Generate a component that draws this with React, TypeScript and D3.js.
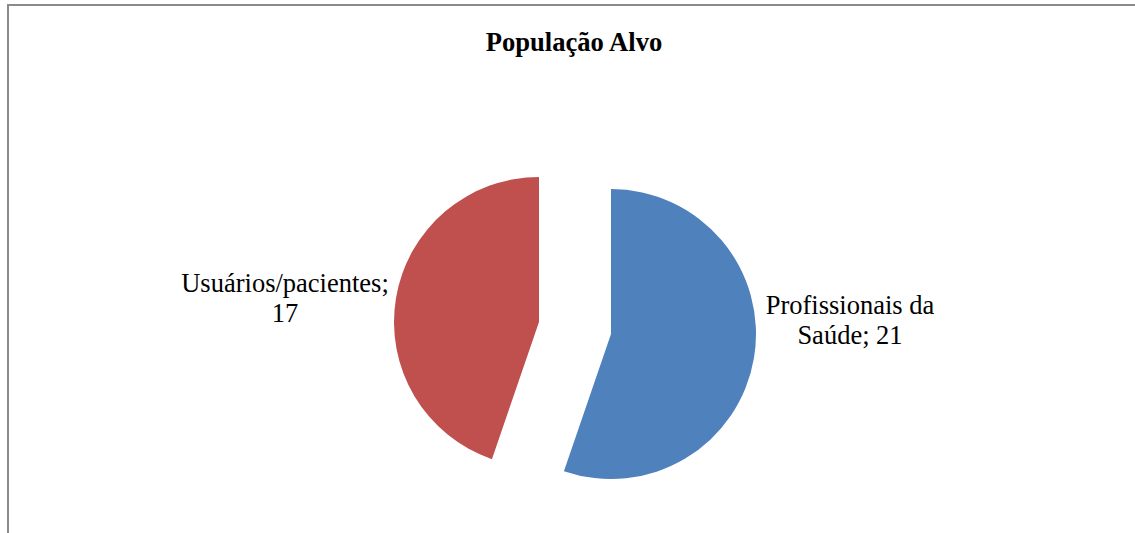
import React from "react";
import * as d3 from "d3";

const categories = ["Profissionais da Saúde", "Usuários/pacientes"];
const values = [21, 17];
const labelLines = [["Profissionais da", "Saúde; 21"], ["Usuários/pacientes;", "17"]];
const colors = ["#4F81BD", "#C0504D"];
const title = "População Alvo";

const W = 1135;
const H = 533;

export default function App() {
  const cx = 575;
  const cy = 328;
  const r = 145;
  const explode = 36.5;
  const data = categories.map((c, i) => ({ name: c, value: values[i], lines: labelLines[i], color: colors[i] }));
  const pie = d3.pie<any>().value((d) => d.value).sort(null).startAngle(0).endAngle(2 * Math.PI);
  const arcs = pie(data);
  const arc = d3.arc<any>().innerRadius(0).outerRadius(r);
  const labelPos = [
    { x: 850, y: 314 },
    { x: 285, y: 292 },
  ];
  return (
    <svg
      width={W}
      height={H}
      style={{ position: "fixed", left: 0, top: 0, background: "#fff" }}
      fontFamily="'Liberation Serif', 'Times New Roman', serif"
    >
      <rect x={0} y={0} width={W} height={H} fill="#fff" />
      <line x1={7} y1={5} x2={W} y2={5} stroke="#8a8a8a" strokeWidth={2} />
      <line x1={8} y1={4} x2={8} y2={H} stroke="#8a8a8a" strokeWidth={2} />
      <text x={574} y={51} textAnchor="middle" fontWeight="bold" fontSize={26.6} fill="#000">
        {title}
      </text>
      {arcs.map((a, i) => {
        const mid = (a.startAngle + a.endAngle) / 2;
        const dx = Math.sin(mid) * explode;
        const dy = -Math.cos(mid) * explode;
        return (
          <path key={i} d={arc(a) as string} transform={`translate(${cx + dx},${cy + dy})`} fill={a.data.color} />
        );
      })}
      {arcs.map((a, i) => (
        <text key={"l" + i} x={labelPos[i].x} y={labelPos[i].y} textAnchor="middle" fontSize={26.5} fill="#000">
          {a.data.lines.map((ln: string, j: number) => (
            <tspan key={j} x={labelPos[i].x} dy={j === 0 ? 0 : 29.5}>
              {ln}
            </tspan>
          ))}
        </text>
      ))}
    </svg>
  );
}
